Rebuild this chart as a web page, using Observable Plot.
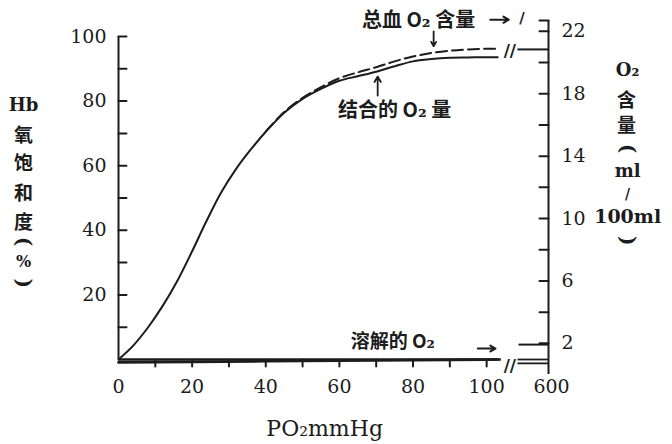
<!DOCTYPE html>
<html><head><meta charset="utf-8">
<script src="https://cdn.jsdelivr.net/npm/d3@7"></script>
<script src="https://cdn.jsdelivr.net/npm/@observablehq/plot@0.6"></script>
<style>
html,body{margin:0;padding:0;background:#fff;}
#chart{width:672px;height:444px;overflow:hidden;}
</style></head><body><div id="chart"></div>
<script>
// ---- data ----
const po2 = [0,4,8,12,16,20,24,28,32,36,40,45,50,55,60,65,70,75,80,85,90,95,100,103];
const boundSat = [0,4.3,9.9,16.6,24.4,33.5,43.1,51.9,59.1,65.1,70.5,76.4,80.7,83.8,86.3,87.7,89.1,90.8,92.3,93,93.4,93.5,93.6,93.6];
const totalPo2 = [40,45,50,55,60,65,70,75,80,85,90,95,100,103];
const totalSat = [70.6,76.6,81,84.3,87.1,88.9,90.5,92.3,93.8,94.9,95.6,96,96.2,96.2];
const dissolvedPo2 = [0,20,40,60,80,100,103];
const dissolvedMl = [0,0.06,0.12,0.18,0.24,0.30,0.31];
const dissolvedAt600Ml = 1.9;
const totalAt600Sat = 96;

const leftTicks = [10,20,30,40,50,60,70,80,90,100];
const leftTickLabels = [20,40,60,80,100];
const bottomTicks = [10,20,30,40,50,60,70,80,90,100];
const bottomTickLabels = [0,20,40,60,80,100];
const highPo2Label = "600";
const rightTicks = [2,4,6,8,10,12,14,16,18,20,22,22.7];
const rightTickLabels = [2,6,10,14,18,22];

// broken x axis: 0–~104 then a gap, then the 600 mmHg stub
const breakEnd = 104, breakStart = 108.5, x600 = 116.8;
// right axis (ml/100ml) expressed on the left (%) scale
const mlToY = ml => 5 + (ml - 2) * 4.83;
// dissolved O2 drawn hugging the PO2 axis as in the picture
const dissolvedToY = ml => -0.9 + ml * 2.9;

const ink = "#1c1c1c";
const serif = "'DejaVu Serif', 'Liberation Serif', serif";
const cjk = "'Noto Sans CJK SC', 'DejaVu Serif', sans-serif";
const tickShape = {draw(ctx, l) { ctx.moveTo(0, 0); ctx.lineTo(0, -l); }};

const bound = po2.map((x, i) => ({x, y: boundSat[i]}));
const total = totalPo2.map((x, i) => ({x, y: totalSat[i]}));
const dissolved = dissolvedPo2.map((x, i) => ({x, y: dissolvedToY(dissolvedMl[i])}));

const leftCjk = [{t: "氧", y: 69.3}, {t: "饱", y: 60.7}, {t: "和", y: 51.4}, {t: "度", y: 42.4}];
const leftLatin = [{t: "Hb", y: 78.6, r: 0, s: 18}, {t: "(", y: 36.5, r: 90, s: 20}, {t: "%", y: 30.2, r: 0, s: 16}, {t: ")", y: 23.6, r: 90, s: 20}];
const rightCjk = [{t: "含", y: 80.2}, {t: "量", y: 72.4}];
const rightLatin = [
  {t: "O₂", y: 89.5, r: 0, s: 18}, {t: "(", y: 65.3, r: 90, s: 20}, {t: "ml", y: 58.2, r: 0, s: 18},
  {t: "/", y: 51.2, r: 0, s: 14}, {t: "100ml", y: 44, r: 0, s: 19}, {t: ")", y: 36.8, r: 90, s: 20}
];

const chart = Plot.plot({
  width: 672, height: 444,
  marginLeft: 118, marginRight: 124, marginTop: 36, marginBottom: 85,
  x: {domain: [0, x600], axis: null},
  y: {domain: [0, 100], axis: null},
  style: {background: "#fff", color: ink, fontFamily: serif, overflow: "visible"},
  marks: [
    // axes lines
    Plot.ruleX([0], {y1: 0, y2: 100, stroke: ink, strokeWidth: 2}),
    Plot.ruleX([x600], {y1: mlToY(0), y2: mlToY(22.7), stroke: ink, strokeWidth: 2}),
    Plot.ruleY([0], {x1: 0, x2: breakEnd, stroke: ink, strokeWidth: 2.4}),
    Plot.ruleY([0], {x1: breakStart, x2: x600, stroke: ink, strokeWidth: 1.8}),
    // ticks
    Plot.vector(leftTicks, {x: 0, y: d => d, length: 8, rotate: 90, anchor: "start", shape: tickShape, stroke: ink, strokeWidth: 2}),
    Plot.vector(rightTicks, {x: x600, y: d => mlToY(d), length: 9, rotate: -90, anchor: "start", shape: tickShape, stroke: ink, strokeWidth: 2}),
    Plot.vector(bottomTicks, {x: d => d, y: 0, length: 7, rotate: 180, anchor: "start", shape: tickShape, stroke: ink, strokeWidth: 2}),
    // tick labels
    Plot.text(leftTickLabels, {x: 0, y: d => d, text: d => String(d), textAnchor: "end", dx: -12, fontSize: 19, fill: ink}),
    Plot.text(rightTickLabels, {x: x600, y: d => mlToY(d), text: d => String(d), textAnchor: "start", dx: 13, fontSize: 19, fill: ink}),
    Plot.text(bottomTickLabels, {x: d => d, y: 0, text: d => String(d), dy: 27, fontSize: 19, fill: ink}),
    Plot.text([highPo2Label], {x: x600, y: 0, text: d => d, dy: 27, dx: 3, fontSize: 19, fill: ink}),
    // curves
    Plot.line(dissolved, {x: "x", y: "y", stroke: ink, strokeWidth: 2.6}),
    Plot.line(bound, {x: "x", y: "y", stroke: ink, strokeWidth: 2, curve: "catmull-rom"}),
    Plot.line(total, {x: "x", y: "y", stroke: ink, strokeWidth: 2, strokeDasharray: "11,5", curve: "catmull-rom"}),
    // 600 mmHg stub after the break
    Plot.ruleY([totalAt600Sat], {x1: breakStart, x2: x600, stroke: ink, strokeWidth: 2}),
    Plot.ruleY([dissolvedToY(dissolvedAt600Ml)], {x1: breakStart + 0.3, x2: x600, stroke: ink, strokeWidth: 2}),
    Plot.ruleY([-1.2], {x1: breakStart, x2: x600, stroke: ink, strokeWidth: 1.8}),
    // break marks
    Plot.text([totalAt600Sat - 0.5, -1.8], {x: 106.3, y: d => d, text: () => "//", fontSize: 17, fontWeight: "bold", fill: ink}),
    Plot.text([105.7], {x: 109.6, y: d => d, text: () => "/", fontSize: 15, fontWeight: "bold", fill: ink}),
    // annotations
    Plot.text(["总血 O₂ 含量"], {x: 81.5, y: 105, text: d => d, fontFamily: cjk, fontWeight: "bold", fontSize: 20, fill: ink}),
    Plot.arrow([0], {x1: 101, x2: 106, y1: 105.2, y2: 105.2, stroke: ink, strokeWidth: 2, headLength: 6}),
    Plot.arrow([0], {x1: 85.6, x2: 85.6, y1: 101.6, y2: 97.0, stroke: ink, strokeWidth: 1.8, headLength: 6}),
    Plot.text(["结合的 O₂ 量"], {x: 75, y: 77.1, text: d => d, fontFamily: cjk, fontWeight: "bold", fontSize: 20, fill: ink}),
    Plot.arrow([0], {x1: 70.4, x2: 70.4, y1: 81.7, y2: 87.6, stroke: ink, strokeWidth: 1.8, headLength: 6}),
    Plot.text(["溶解的 O₂"], {x: 74.5, y: 5.3, text: d => d, fontFamily: cjk, fontWeight: "bold", fontSize: 19, fill: ink}),
    Plot.arrow([0], {x1: 97.6, x2: 102.4, y1: 3.4, y2: 3.4, stroke: ink, strokeWidth: 2, headLength: 6}),
    // axis titles (stacked vertically)
    Plot.text(leftCjk, {x: -25.8, y: "y", text: "t", fontFamily: cjk, fontWeight: "bold", fontSize: 19, fill: ink}),
    Plot.text(leftLatin, {x: -25.8, y: "y", text: "t", rotate: "r", fontSize: "s", fontWeight: "bold", fill: ink}),
    Plot.text(rightCjk, {x: 138, y: "y", text: "t", fontFamily: cjk, fontWeight: "bold", fontSize: 19, fill: ink}),
    Plot.text(rightLatin, {x: 138.3, y: "y", text: "t", rotate: "r", fontSize: "s", fontWeight: "bold", fill: ink}),
    Plot.text(["PO₂mmHg"], {x: 56, y: -21.4, text: d => d, fontSize: 22, fill: ink})
  ]
});
document.getElementById("chart").appendChild(chart);
</script></body></html>
